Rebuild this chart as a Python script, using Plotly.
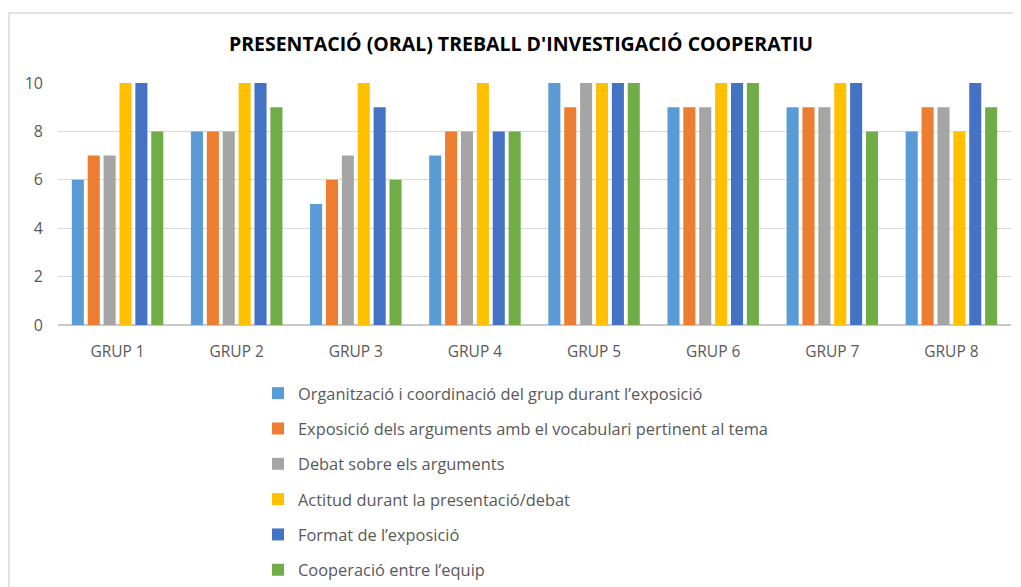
import plotly.graph_objects as go

categories = ["GRUP 1", "GRUP 2", "GRUP 3", "GRUP 4", "GRUP 5", "GRUP 6", "GRUP 7", "GRUP 8"]
series_names = [
    "Organització i coordinació del grup durant l’exposició",
    "Exposició dels arguments amb el vocabulari pertinent al tema",
    "Debat sobre els arguments",
    "Actitud durant la presentació/debat",
    "Format de l’exposició",
    "Cooperació entre l’equip",
]
organitzacio = [6, 8, 5, 7, 10, 9, 9, 8]
exposicio = [7, 8, 6, 8, 9, 9, 9, 9]
debat = [7, 8, 7, 8, 10, 9, 9, 9]
actitud = [10, 10, 10, 10, 10, 10, 10, 8]
format_ = [10, 10, 9, 8, 10, 10, 10, 10]
cooperacio = [8, 9, 6, 8, 10, 10, 8, 9]
series_values = [organitzacio, exposicio, debat, actitud, format_, cooperacio]
colors = ["#5B9BD5", "#ED7D31", "#A5A5A5", "#FFC000", "#4472C4", "#70AD47"]
y_ticks = [0, 2, 4, 6, 8, 10]

# the page body adds an 8px offset; figure coordinates are screen minus 8
W, H = 1021, 587
ML, MR, MT, MB = 50, 18, 75, 270
PW = W - ML - MR
PH = H - MT - MB

fig = go.Figure()
for i, (name, vals, col) in enumerate(zip(series_names, series_values, colors)):
    fig.add_trace(go.Bar(
        x=categories, y=vals, name=name,
        marker=dict(color=col, line=dict(width=0)),
        legendgroup=f"g{i}",
    ))

def px_x(p):
    return (p - ML) / PW

def px_y(p):
    return 1 - (p - MT) / PH

font_family = "Open Sans, Liberation Sans, Arial, sans-serif"

fig.update_layout(
    width=W, height=H,
    margin=dict(l=ML, r=MR, t=MT, b=MB, autoexpand=False),
    paper_bgcolor="white", plot_bgcolor="white",
    barmode="group", bargap=0.2, bargroupgap=0.24,
    font=dict(family=font_family, color="#595959", size=14),
    title=dict(
        text="<b>PRESENTACIÓ (ORAL) TREBALL D'INVESTIGACIÓ COOPERATIU</b>",
        x=513 / W, xref="container", xanchor="center",
        y=1 - 36 / H, yref="container", yanchor="middle",
        font=dict(family=font_family, size=19.5, color="#000000"),
    ),
    xaxis=dict(
        showgrid=False, showline=False, ticks="", automargin=False,
        tickfont=dict(size=15.5, color="#595959"), ticklabelstandoff=15,
    ),
    yaxis=dict(
        range=[0, 10], tickvals=y_ticks, showgrid=True, gridcolor="#D9D9D9",
        gridwidth=1, zeroline=True, zerolinecolor="#C8C8C8", zerolinewidth=1.5,
        showline=False, ticks="", automargin=False,
        tickfont=dict(size=16, color="#595959"), ticklabelstandoff=14,
    ),
    legend=dict(
        orientation="v", xref="container", x=250 / W, xanchor="left",
        yref="container", y=1 - 368 / H, yanchor="top",
        font=dict(size=16.4, color="#595959", family=font_family),
        tracegroupgap=11, traceorder="grouped",
        bgcolor="rgba(0,0,0,0)",
    ),
    shapes=[dict(
        type="rect", xref="paper", yref="paper",
        x0=px_x(1), x1=px_x(1030), y0=px_y(600), y1=px_y(5),
        line=dict(color="#D9D9D9", width=1.5), fillcolor="rgba(0,0,0,0)", layer="below",
    )],
)

fig.write_html("out.html")
